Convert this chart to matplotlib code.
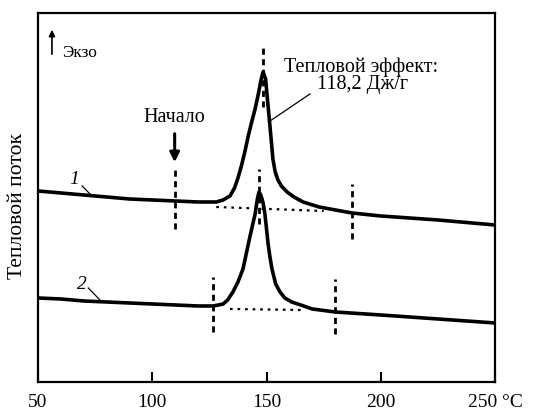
import matplotlib
matplotlib.use("Agg")
import matplotlib.pyplot as plt

plt.rcParams['font.family'] = ['Liberation Serif', 'DejaVu Serif']

# curve 1: temperature, heat flow (arb. units, exo up)
t1 = [50, 60, 70, 80, 90, 100, 110, 120, 128, 131, 134, 136, 137.5, 139, 140.5, 142, 143.5, 145, 146.5, 147.6,
      148.5, 149.6, 150.1, 151.5, 152.8, 153.8, 155, 156.5, 159, 162, 166, 173, 187.4, 200, 225, 250]
h1 = [19.1, 18.9, 18.7, 18.5, 18.3, 18.2, 18.1, 18.0, 18.0, 18.2, 18.6, 19.4, 20.4, 21.6, 23.0, 24.6, 26.0, 27.3, 28.9, 30.2,
      31.0, 30.3, 29.0, 25.6, 22.3, 21.0, 20.2, 19.6, 19.0, 18.5, 18.0, 17.5, 16.9, 16.6, 16.2, 15.7]

# curve 2
t2 = [50, 60, 70, 80, 90, 100, 110, 120, 126.6, 129, 131, 133, 135.3, 137.5, 139.7, 141.3, 142.8, 144, 145,
      146, 146.7, 147.5, 148.5, 149.3, 150, 150.7, 151.5, 152.4, 154, 155.9, 158, 161, 165, 170, 180, 200, 225, 250]
h2 = [8.4, 8.3, 8.1, 8.0, 7.9, 7.8, 7.7, 7.6, 7.6, 7.7, 7.8, 8.2, 9.0, 10.0, 11.3, 13.0, 14.6, 15.8, 16.8,
      18.3, 19.0, 18.7, 17.9, 16.8, 15.3, 13.8, 12.5, 11.3, 9.8, 9.0, 8.4, 8.0, 7.7, 7.3, 7.0, 6.7, 6.3, 5.9]

# dashed markers: temperature, low, high
marks_t = [109.8, 148.6, 187.4, 126.6, 146.7, 180.0]
marks_lo = [15.3, 27.5, 14.3, 5.0, 15.8, 4.8]
marks_hi = [21.3, 33.6, 19.8, 10.5, 21.3, 10.3]

# dotted baselines
base1_t = [128, 175]
base1_h = [17.5, 17.1]
base2_t = [134, 165]
base2_h = [7.3, 7.2]

xticks = [50, 100, 150, 200, 250]
xlabels = ['50', '100', '150', '200', '250 °C']

fig = plt.figure(figsize=(5.34, 4.10), dpi=100)
ax = fig.add_axes([0.0712, 0.0659, 0.8558, 0.9])

ax.plot(t1, h1, color='black', lw=2.6, solid_joinstyle='round', solid_capstyle='round')
ax.plot(t2, h2, color='black', lw=2.6, solid_joinstyle='round', solid_capstyle='round')

for t, lo, hi in zip(marks_t, marks_lo, marks_hi):
    ax.plot([t, t], [lo, hi], color='black', lw=2, linestyle=(0, (2.2, 1.6)))

ax.plot(base1_t, base1_h, color='black', lw=1.6, linestyle=(0, (1.2, 2.2)))
ax.plot(base2_t, base2_h, color='black', lw=1.6, linestyle=(0, (1.2, 2.2)))

ax.set_xlim(50, 250)
ax.set_ylim(0, 36.9)
ax.set_xticks(xticks)
ax.set_xticklabels(xlabels, fontsize=14)
ax.set_yticks([])
ax.tick_params(axis='x', direction='in', length=7, width=1.5, pad=8)
for s in ax.spines.values():
    s.set_linewidth(1.6)

ax.set_ylabel('Тепловой поток', fontsize=15.5)
ax.yaxis.set_label_coords(-0.024, 0.48)

# annotations
ax.annotate('', xy=(56.1, 35.5), xytext=(56.1, 32.5),
            arrowprops=dict(arrowstyle='-|>', color='black', lw=1.2, mutation_scale=9))
ax.text(60.5, 33.0, 'Экзо', fontsize=12.5, va='center', ha='left')

ax.text(109.5, 26.5, 'Начало', fontsize=14.5, va='center', ha='center')
ax.annotate('', xy=(109.8, 21.7), xytext=(109.8, 25.1),
            arrowprops=dict(arrowstyle='-|>', color='black', lw=2.2, mutation_scale=14))

ax.text(191.4, 31.6, 'Тепловой эффект:', fontsize=14.5, va='center', ha='center')
ax.text(192.2, 29.8, '118,2 Дж/г', fontsize=14.5, va='center', ha='center')
ax.plot([169, 150.9], [28.8, 26.0], color='black', lw=0.9)

ax.text(65.8, 20.3, '1', fontsize=14, style='italic', va='center', ha='center')
ax.plot([69.3, 73.6], [19.6, 18.6], color='black', lw=0.9)
ax.text(69.3, 9.8, '2', fontsize=14, style='italic', va='center', ha='center')
ax.plot([72.0, 77.1], [9.4, 8.2], color='black', lw=0.9)

plt.savefig('out.png', dpi=100)
